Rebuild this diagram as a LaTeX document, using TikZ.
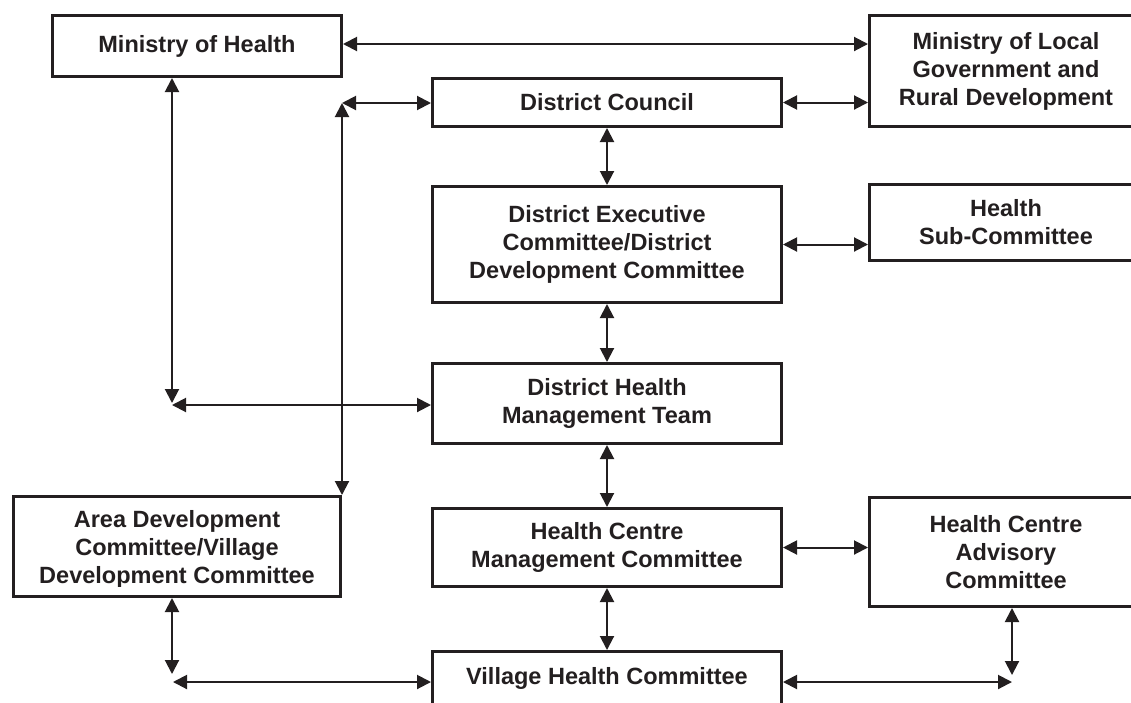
\documentclass[tikz,border=0pt]{standalone}
\usepackage{fontspec}
\setmainfont{Liberation Sans}
\usetikzlibrary{arrows.meta}
\definecolor{ink}{RGB}{35,31,32}
\begin{document}
\begin{tikzpicture}[x=1pt,y=-1pt,
  box/.style={draw=ink, line width=3pt, fill=white, align=center, inner sep=0pt,
    font=\fontsize{23.5}{28}\selectfont\bfseries, text=ink},
  label/.style={align=center, inner sep=0pt,
    font=\fontsize{23.5}{28}\selectfont\bfseries, text=ink},
  link/.style={line width=2pt, draw=ink,
    {Triangle[length=14pt,width=14pt]}-{Triangle[length=14pt,width=14pt]}}]
\useasboundingbox (0,0) rectangle (1131,702);
\clip (0,0) rectangle (1131,702);

% organisational units
\node[box, minimum width=289pt, minimum height=61pt] (moh) at (197,46) {Ministry of Health};
\node[box, minimum width=273pt, minimum height=111pt] (mlg) at (1006,71)
  {Ministry of Local\\Government and\\Rural Development};
\node[box, minimum width=349pt, minimum height=48pt] (dc) at (607,102.5) {District Council};
\node[box, minimum width=349pt, minimum height=116pt] (dec) at (607,244.5)
  {District Executive\\Committee/District\\Development Committee};
\node[box, minimum width=273pt, minimum height=76pt] (hsc) at (1006,222.5)
  {Health\\Sub-Committee};
\node[box, minimum width=349pt, minimum height=80pt] (dhmt) at (607,403.5)
  {District Health\\Management Team};
\node[box, minimum width=327pt, minimum height=100pt] (adc) at (177,546.5) {};
\begin{scope}
  \clip (12,495) rectangle (342,586);
  \node[label] (adctext) at (177,549)
    {Area Development\\Committee/Village\\Development Committee};
\end{scope}
\node[box, minimum width=349pt, minimum height=78pt] (hcmc) at (607,547.5)
  {Health Centre\\Management Committee};
\node[box, minimum width=273pt, minimum height=109pt] (hcac) at (1006,552)
  {Health Centre\\Advisory\\Committee};
\node[box, minimum width=349pt, minimum height=53pt] (vhc) at (607,678)
  {Village Health Committee};

% corner points of the bent links
\coordinate (c1) at (342,103);
\coordinate (c2) at (172,405);
\coordinate (blv) at (172,674);
\coordinate (blh) at (173,682);
\coordinate (brv) at (1012,675);
\coordinate (brh) at (1012,682);

% links
\draw[link] ([yshift=2pt]moh.east) -- ([yshift=2pt]moh.east -| mlg.west);
\draw[link] (c1) -- (c1 -| dc.west);
\draw[link] (c1) -- (c1 |- adc.north);
\draw[link] (dc.east) -- (dc.east -| mlg.west);
\draw[link] (dc.south) -- (dec.north);
\draw[link] (dec.east) -- (dec.east -| hsc.west);
\draw[link] (dec.south) -- (dhmt.north);
\draw[link] (c2 |- moh.south) -- ([yshift=2pt]c2);
\draw[link] (c2) -- (c2 -| dhmt.west);
\draw[link] (dhmt.south) -- (hcmc.north);
\draw[link] (hcmc.east) -- (hcmc.east -| hcac.west);
\draw[link] (hcmc.south) -- (vhc.north);
\draw[link] (blv |- adc.south) -- (blv);
\draw[link] (blh) -- (blh -| vhc.west);
\draw[link] (brv |- hcac.south) -- (brv);
\draw[link] (brh -| vhc.east) -- (brh);
\end{tikzpicture}
\end{document}
